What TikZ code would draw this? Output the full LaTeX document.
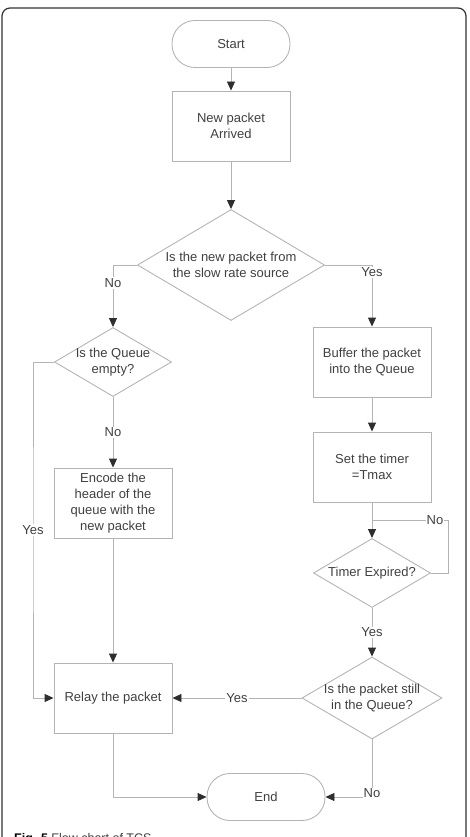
\documentclass[tikz,border=0pt]{standalone}
\usepackage{fontspec}
\setmainfont{Liberation Sans}
\usetikzlibrary{shapes.geometric,arrows.meta,positioning}

\definecolor{edgegray}{HTML}{B4B4B4}
\definecolor{tipgray}{HTML}{2E2E2E}
\definecolor{txtgray}{HTML}{404040}
\definecolor{framegray}{HTML}{333333}

\tikzset{
  term/.style={draw=edgegray, line width=0.9pt, rectangle, rounded corners=23pt,
    minimum width=118pt, minimum height=47pt},
  proc/.style={draw=edgegray, line width=0.9pt, rectangle, align=center,
    minimum width=118pt, minimum height=70pt},
  decide/.style={draw=edgegray, line width=0.9pt, diamond, aspect=1.7,
    inner sep=-4pt, align=center},
  flow/.style={draw=edgegray, line width=0.9pt,
    -{Triangle[length=9pt,width=8pt,color=tipgray]}},
  plain/.style={draw=edgegray, line width=0.9pt},
  lbl/.style={fill=white, inner sep=1pt, text=txtgray}
}

\begin{document}
\begin{tikzpicture}[x=1pt, y=-1pt, every node/.style={font=\fontsize{13}{16}\selectfont, text=txtgray}]

\useasboundingbox (0,0) rectangle (469,837);
\clip (0,0) rectangle (469,837);

% ============================
% Outer frame
% ============================
\draw[framegray, line width=1.2pt, rounded corners=8pt] (2,8) rectangle (466,880);

% ============================
% Middle column
% ============================
\node[term] (start)   at (231,44)  {Start};
\node[proc] (arrived) at (231,126) {New packet\\Arrived};
\node[decide, minimum width=187pt, minimum height=111pt] (slow) at (231,265)
  {Is the new packet from\\the slow rate source};
\node[term] (endn)    at (266,797) {End};

% ============================
% Left column
% ============================
\node[decide, minimum width=117pt, minimum height=69pt] (empty) at (113,362)
  {Is the Queue\\empty?};
\node[proc] (encode) at (113,503) {Encode the\\header of the\\queue with the\\new packet};
\node[proc] (relay)  at (113,698) {Relay the packet};

% ============================
% Right column
% ============================
\node[proc] (buffer) at (372,362) {Buffer the packet\\into the Queue};
\node[proc] (timer)  at (372,467) {Set the timer\\=Tmax};
\node[decide, minimum width=117pt, minimum height=69pt] (expired) at (372,573)
  {Timer Expired?};
\node[decide, minimum width=140pt, minimum height=82pt] (still) at (372,698)
  {Is the packet still\\in the Queue?};

% ============================
% Bends
% ============================
\coordinate (leftrail) at (33,530);
\coordinate (noloop)   at (448,520);

% ============================
% Connectors
% ============================
\draw[flow] (start) -- (arrived);
\draw[flow] (arrived) -- (slow);

\draw[flow] (slow.west) -| node[lbl, pos=0.645] {No} (empty.north);
\draw[flow] (slow.east) -| node[lbl, pos=0.56] {Yes} (buffer.north);

\draw[flow] (empty.west) -| (leftrail) |- (relay.west);
\node[lbl] at (leftrail) {Yes};
\draw[flow] (empty.south) -- node[lbl] {No} (encode.north);
\draw[flow] (encode) -- (relay);
\draw[flow] (relay.south) |- (endn.west);

\draw[flow] (buffer) -- (timer);
\draw[flow] (timer) -- (expired);
\draw[plain] (expired.east) -| (noloop) -- (timer.south |- noloop);
\node[lbl] at (435,520) {No};

\draw[flow] (expired.south) -- node[lbl] {Yes} (still.north);
\draw[flow] (still.west) -- node[lbl] {Yes} (relay.east);
\draw[flow] (still.south) |- node[lbl, pos=0.47] {No} (endn.east);

% ============================
% Caption (cut by the page)
% ============================
\node[anchor=base west, inner sep=0pt, font=\fontsize{12.5}{15}\selectfont] (caption) at (14,842)
  {\textcolor{black}{\bfseries Fig. 5} Flow chart of TCS};

\end{tikzpicture}
\end{document}
